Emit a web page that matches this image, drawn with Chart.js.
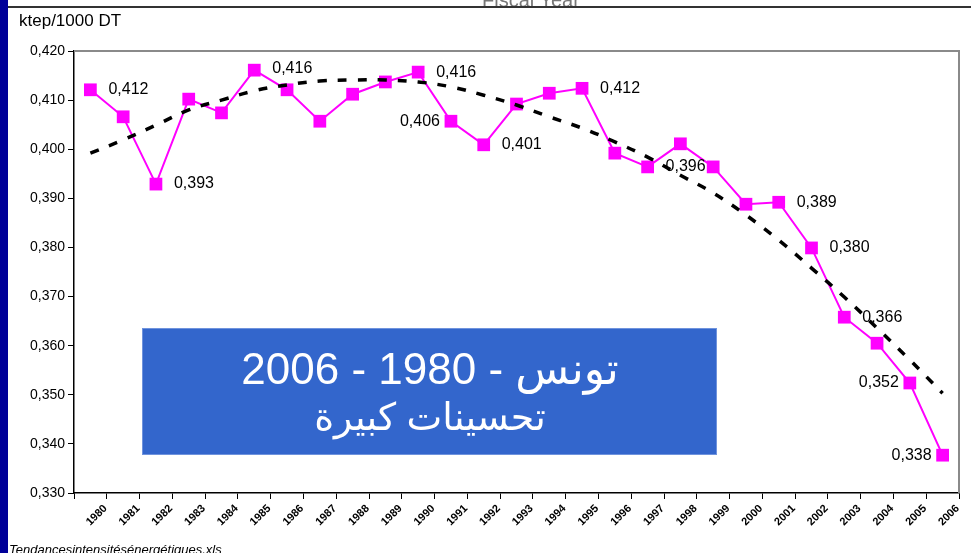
<!DOCTYPE html>
<html>
<head>
<meta charset="utf-8">
<script src="https://cdn.jsdelivr.net/npm/chart.js@4.4.1/dist/chart.umd.min.js"></script>
<style>
  html, body { margin: 0; padding: 0; background: #fff; }
  #wrap { position: relative; width: 971px; height: 553px; overflow: hidden; font-family: 'Liberation Sans', Arial, sans-serif; }
  #chart { position: absolute; left: 0; top: 0; }
  #bar { position: absolute; left: 0; top: 0; width: 8px; height: 553px; background: #000099; }
  #topline { position: absolute; left: 8px; right: 0; top: 6px; height: 2px; background: #333; }
  #fiscal { position: absolute; left: 470px; top: 0; width: 150px; height: 6px; overflow: hidden; }
  #fiscal span { position: absolute; left: 12px; top: -10px; font-size: 20px; line-height: 20px; color: #777; white-space: nowrap; }
  #unit { position: absolute; left: 19px; top: 11px; font-size: 17px; line-height: 20px; color: #000; }
  #file { position: absolute; left: 9px; top: 543px; font-size: 13px; line-height: 14px; font-style: italic; color: #000; white-space: nowrap; }
</style>
</head>
<body>
<div id="wrap">
  <canvas id="chart" width="971" height="553"></canvas>
  <div id="bar"></div>
  <div id="fiscal"><span>Fiscal Year</span></div>
  <div id="topline"></div>
  <div id="unit">ktep/1000 DT</div>
  <div id="file">Tendancesintensitésénergétiques.xls</div>
</div>
<script>
// energy intensity, ktep per 1000 DT
const years = ['1980', '1981', '1982', '1983', '1984', '1985', '1986', '1987', '1988', '1989',
  '1990', '1991', '1992', '1993', '1994', '1995', '1996', '1997', '1998', '1999',
  '2000', '2001', '2002', '2003', '2004', '2005', '2006'];
const intensity = [0.4121, 0.4066, 0.3929, 0.4102, 0.4074, 0.4161, 0.4121, 0.4057, 0.4112, 0.4137,
  0.4157, 0.4057, 0.4009, 0.4092, 0.4114, 0.4124, 0.3992, 0.3964, 0.4011, 0.3964,
  0.3888, 0.3892, 0.3799, 0.3658, 0.3605, 0.3524, 0.3377];
// dashed trend curve
const trend = [0.3992, 0.4019, 0.4049, 0.4080, 0.4100, 0.4119, 0.4131, 0.4139, 0.4141, 0.4141,
  0.4137, 0.4127, 0.4110, 0.4090, 0.4066, 0.4043, 0.4015, 0.3984, 0.3947, 0.3911,
  0.3866, 0.3815, 0.3758, 0.3699, 0.3636, 0.3571, 0.3503];
const yMin = 0.33, yMax = 0.42, yStep = 0.01;
// which points carry a value label, and on which side
const labelled = { 1980: 'r', 1982: 'r', 1985: 'ru', 1990: 'r', 1991: 'l', 1992: 'r', 1995: 'r',
  1997: 'r', 2001: 'r', 2002: 'r', 2003: 'r', 2005: 'l', 2006: 'l' };
const boxLines = ['تونس - 1980 - 2006', 'تحسينات كبيرة'];

const fmt = v => v.toFixed(3).replace('.', ',');

const frame = {
  id: 'frame',
  beforeDatasetsDraw(chart) {
    const { ctx, chartArea: a } = chart;
    ctx.save();
    ctx.strokeStyle = '#8a8a8a';
    ctx.lineWidth = 2;
    ctx.beginPath();
    ctx.moveTo(a.left, a.top);
    ctx.lineTo(a.right, a.top);
    ctx.lineTo(a.right, a.bottom);
    ctx.stroke();
    ctx.restore();
  },
};

const valueLabels = {
  id: 'valueLabels',
  afterDatasetsDraw(chart) {
    const { ctx } = chart;
    const meta = chart.getDatasetMeta(0);
    ctx.save();
    ctx.font = '16px "Liberation Sans", Arial, sans-serif';
    ctx.fillStyle = '#000';
    ctx.textBaseline = 'middle';
    years.forEach((y, i) => {
      const side = labelled[y];
      if (!side) return;
      const p = meta.data[i];
      if (side === 'l') {
        ctx.textAlign = 'right';
        ctx.fillText(fmt(intensity[i]), p.x - 11, p.y);
      } else {
        ctx.textAlign = 'left';
        ctx.fillText(fmt(intensity[i]), p.x + 18, side === 'ru' ? p.y - 2 : p.y);
      }
    });
    ctx.restore();
  },
};

const textBox = {
  id: 'textBox',
  afterDraw(chart) {
    const { ctx, chartArea: a } = chart;
    const x = a.left + 68, y = a.top + 277, w = 575, h = 127;
    ctx.save();
    ctx.fillStyle = '#3366cc';
    ctx.fillRect(x, y, w, h);
    ctx.strokeStyle = '#6f93dd';
    ctx.lineWidth = 1;
    ctx.strokeRect(x + 0.5, y + 0.5, w - 1, h - 1);
    ctx.fillStyle = '#fff';
    ctx.textAlign = 'center';
    ctx.textBaseline = 'alphabetic';
    ctx.direction = 'rtl';
    ctx.font = '44px "Liberation Sans", Arial, "DejaVu Sans", sans-serif';
    ctx.fillText(boxLines[0], x + 288, y + 56);
    ctx.font = '38px "Liberation Sans", Arial, "DejaVu Sans", sans-serif';
    ctx.fillText(boxLines[1], x + 288, y + 102);
    ctx.restore();
  },
};

new Chart(document.getElementById('chart'), {
  type: 'line',
  data: {
    labels: years,
    datasets: [
      {
        label: 'Intensité',
        data: intensity,
        borderColor: '#ff00ff',
        backgroundColor: '#ff00ff',
        borderWidth: 2,
        pointStyle: 'rect',
        pointRadius: 9,
        pointBorderWidth: 0,
        tension: 0,
        order: 1,
      },
      {
        label: 'Tendance',
        data: trend,
        borderColor: '#000',
        borderWidth: 3.5,
        borderDash: [9, 11],
        pointRadius: 0,
        tension: 0.4,
        fill: false,
        order: 0,
      },
    ],
  },
  options: {
    responsive: false,
    animation: false,
    layout: { padding: { left: 0, top: 51, right: 12, bottom: 0 } },
    plugins: { legend: { display: false }, tooltip: { enabled: false } },
    scales: {
      x: {
        offset: true,
        grid: { offset: true, drawOnChartArea: false, tickLength: 6, color: '#000' },
        border: { color: '#000', width: 1.5 },
        ticks: {
          color: '#000',
          font: { family: '"Liberation Sans", Arial', size: 11, weight: 'bold' },
          minRotation: 45,
          maxRotation: 45,
          labelOffset: 15,
          padding: 3,
        },
        afterFit: s => { s.height = 60; },
      },
      y: {
        min: yMin,
        max: yMax,
        grid: { drawOnChartArea: false, tickLength: 6, color: '#000' },
        border: { color: '#000', width: 1.5 },
        ticks: {
          stepSize: yStep,
          color: '#000',
          font: { family: '"Liberation Sans", Arial', size: 14 },
          padding: 3,
          callback: v => fmt(v),
        },
        afterFit: s => { s.width = 74; },
      },
    },
  },
  plugins: [frame, valueLabels, textBox],
});
</script>
</body>
</html>
